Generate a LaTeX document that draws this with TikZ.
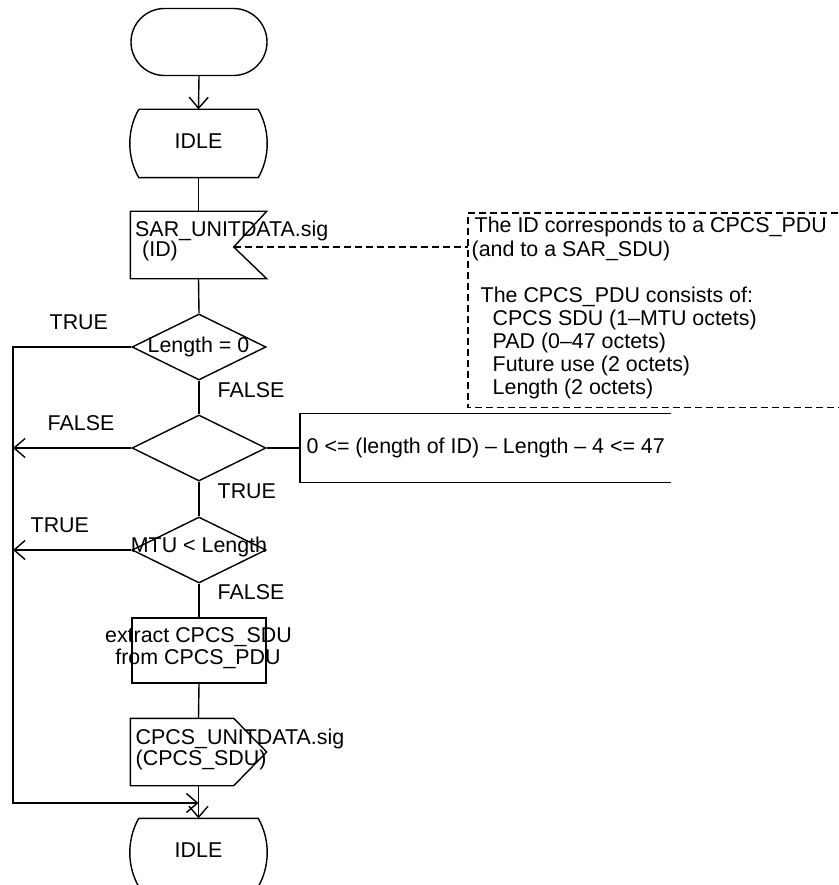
\documentclass[tikz,border=0pt]{standalone}
\usepackage{fontspec}
\setmainfont{Liberation Sans}
\usetikzlibrary{arrows.meta,shapes.misc,shapes.geometric,calc}
\tikzset{
  arr/.style={-{Straight Barb[length=11pt,width=19pt]}},
  txt/.style={font=\fontsize{21.4}{23}\selectfont, inner sep=0pt},
  shapebox/.style={inner sep=0pt, minimum width=135pt, minimum height=66pt},
  dia/.style={draw, diamond, inner sep=0pt, minimum width=134pt, minimum height=66pt},
  cmtline/.style={dash pattern=on 7pt off 4pt},
}
\begin{document}
\begin{tikzpicture}[x=1pt,y=-1pt,line width=1.4pt]
\useasboundingbox (0,0) rectangle (838,885);
% start
\node[draw, rounded rectangle, minimum width=136pt, minimum height=67pt, inner sep=0pt] (start) at (199,42) {};
% idle 1
\node[shapebox, minimum width=118pt, minimum height=67pt] (idle1) at (198.5,143.5) {};
\draw (idle1.north west) -- (idle1.north east) .. controls +(12,20.7) and +(12,-20.7) .. (idle1.south east) -- (idle1.south west) .. controls +(-12,-20.7) and +(-12,20.7) .. (idle1.north west);
\node[txt, anchor=base] (idle1t) at (198.5,149) {IDLE};
\draw[arr] (start.south) -- (idle1.north);
% input signal
\node[shapebox] (sig1) at (198.5,245) {};
\coordinate (notch) at ($(sig1.east)+(-33,2)$);
\draw (sig1.north west) -- (sig1.north east) -- (notch) -- (sig1.south east) -- (sig1.south west) -- cycle;
\node[txt, anchor=base west] (sig1a) at (134.5,236.5) {SAR\_UNITDATA.sig};
\node[txt, anchor=base west] (sig1b) at (141.5,256.5) {(ID)};
\draw (idle1.south) -- (sig1.north);
% decision 1
\node[dia] (d1) at (199,347) {};
\node[txt, anchor=base] (d1t) at (198.5,352) {Length = 0};
\draw (sig1.south) -- (d1.north);
% decision 2
\node[dia] (d2) at (199,448) {};
\draw (d1.south) -- (d2.north);
\node[inner sep=0pt, minimum width=370pt, minimum height=68pt, anchor=west] (cond) at (300,448) {};
\draw (cond.north east) -- (cond.north west) -- (cond.south west) -- (cond.south east);
\node[txt, anchor=base west] (condt) at (306,453) {0 <= (length of ID) – Length – 4 <= 47};
\draw (d2.east) -- (cond.west);
% decision 3
\node[dia] (d3) at (199,550) {};
\node[txt, anchor=base] (d3t) at (199,552) {MTU < Length};
\draw (d2.south) -- (d3.north);
% task
\node[draw, inner sep=0pt, minimum width=134pt, minimum height=65pt] (task) at (199,650.5) {};
\node[txt, anchor=base] (taska) at (198.5,642) {extract CPCS\_SDU};
\node[txt, anchor=base] (taskb) at (198,664.5) {from CPCS\_PDU};
\draw (d3.south) -- (task.north);
% output signal
\node[shapebox] (out) at (198.5,752) {};
\coordinate (outa) at ($(out.north east)+(-33,0)$);
\coordinate (outb) at ($(out.south east)+(-33,0)$);
\draw (out.north west) -- (outa) -- (out.east) -- (outb) -- (out.south west) -- cycle;
\node[txt, anchor=base west] (outt1) at (135,744) {CPCS\_UNITDATA.sig};
\node[txt, anchor=base west] (outt2) at (135,765.5) {(CPCS\_SDU)};
\draw (task.south) -- (out.north);
% idle 2
\node[shapebox, minimum width=118pt, minimum height=67pt] (idle2) at (198.5,852.5) {};
\draw (idle2.north west) -- (idle2.north east) .. controls +(12,20.7) and +(12,-20.7) .. (idle2.south east) -- (idle2.south west) .. controls +(-12,-20.7) and +(-12,20.7) .. (idle2.north west);
\node[txt, anchor=base] (idle2t) at (198.5,857) {IDLE};
\draw[arr] (out.south) -- (idle2.north);
% left bus
\coordinate (lb) at (13,803);
\coordinate (join) at (198.5,803);
\draw[arr] (d1.west) -| (lb) -- (join);
\draw[arr] (d2.west) -- (d2.west -| lb);
\draw[arr] (d3.west) -- (d3.west -| lb);
% labels
\node[txt, anchor=base west] (l1) at (49,329) {TRUE};
\node[txt, anchor=base west] (l2) at (217,397) {FALSE};
\node[txt, anchor=base west] (l3) at (47,430) {FALSE};
\node[txt, anchor=base west] (l4) at (217,498) {TRUE};
\node[txt, anchor=base west] (l5) at (30,532) {TRUE};
\node[txt, anchor=base west] (l6) at (217,599) {FALSE};
% comment
\node[inner sep=0pt, minimum width=380pt, minimum height=193pt, anchor=north west] (cmt) at (468,213) {};
\draw[cmtline] (cmt.north east) -- (cmt.north west) -- (cmt.south west) -- (cmt.south east);
\draw[cmtline] (notch) -- (notch -| cmt.west);
\node[txt, anchor=base west] (c1) at (474,233) {The ID corresponds to a CPCS\_PDU};
\node[txt, anchor=base west] (c2) at (471,256) {(and to a SAR\_SDU)};
\node[txt, anchor=base west] (c3) at (480,302) {The CPCS\_PDU consists of:};
\node[txt, anchor=base west] (c4) at (492,325) {CPCS SDU (1–MTU octets)};
\node[txt, anchor=base west] (c5) at (492,348) {PAD (0–47 octets)};
\node[txt, anchor=base west] (c6) at (492,371) {Future use (2 octets)};
\node[txt, anchor=base west] (c7) at (492,394) {Length (2 octets)};
\end{tikzpicture}
\end{document}
